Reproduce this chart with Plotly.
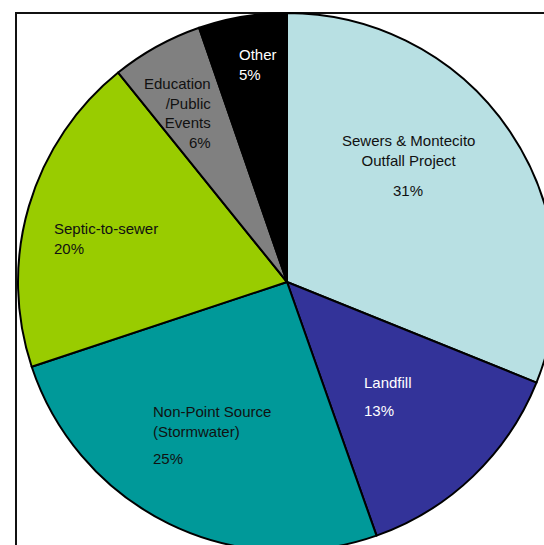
import plotly.graph_objects as go

categories = ["Sewers & Montecito Outfall Project", "Landfill", "Non-Point Source (Stormwater)",
              "Septic-to-sewer", "Education /Public Events", "Other"]
values = [31.1, 13.5, 25.3, 19.3, 5.5, 5.3]
pct_labels = ["31%", "13%", "25%", "20%", "6%", "5%"]
colors = ["#B8E0E3", "#333399", "#009999", "#99CC00", "#808080", "#000000"]

# label texts (name lines)
name_lines = ["Sewers & Montecito<br>Outfall Project", "Landfill", "Non-Point Source<br>(Stormwater)",
              "Septic-to-sewer", "Education<br>/Public<br>Events", "Other"]
text_colors = ["#111111", "#ffffff", "#111111", "#111111", "#111111", "#ffffff"]
joined = [False, False, False, True, True, True]

W, H = 570, 560
# pixel layout of the pie (center, radius)
CX, CY, R = 287, 282, 269

# label placement in pixels: (x, y_top_of_name, anchor, y_top_of_percent)
label_pos = [
    (408, 130, "center", 180),
    (362, 372, "left", 400),
    (151, 401, "left", 448),
    (52, 218, "left", 237),
    (213, 73, "right", 130),
    (237, 44, "left", 63),
]

fig = go.Figure(go.Pie(
    labels=categories, values=values, sort=False, direction="clockwise", rotation=0,
    marker=dict(colors=colors, line=dict(color="#000000", width=2)),
    textinfo="none", hoverinfo="label+percent", showlegend=False,
    domain=dict(x=[(CX - R) / W, (CX + R) / W], y=[1 - (CY + R) / H, 1 - (CY - R) / H]),
))

font_family = "Liberation Sans, Arial, sans-serif"
annotations = []
for name, pct, tc, jn, (px, py, anc, ppy) in zip(name_lines, pct_labels, text_colors, joined, label_pos):
    f = dict(family=font_family, size=15, color=tc)
    if jn:
        annotations.append(dict(x=px / W, y=1 - py / H, xref="paper", yref="paper", text=name + "<br>" + pct,
                                showarrow=False, xanchor=anc, yanchor="top", align=anc, font=f))
    else:
        annotations.append(dict(x=px / W, y=1 - py / H, xref="paper", yref="paper", text=name,
                                showarrow=False, xanchor=anc, yanchor="top", align=anc, font=f))
        annotations.append(dict(x=px / W, y=1 - ppy / H, xref="paper", yref="paper", text=pct,
                                showarrow=False, xanchor=anc, yanchor="top", align=anc, font=f))

fig.update_layout(
    width=W, height=H, autosize=False,
    margin=dict(l=0, r=0, t=0, b=0),
    paper_bgcolor="white", plot_bgcolor="white",
    annotations=annotations,
    shapes=[dict(type="rect", xref="paper", yref="paper", x0=16 / W, x1=1.2, y0=-0.2, y1=1 - 13 / H,
                 line=dict(color="#111111", width=2), fillcolor="rgba(0,0,0,0)", layer="below")],
)

fig.write_html("out.html", config={"displayModeBar": False},
               post_script="document.body.style.margin='0';document.body.style.overflow='hidden';")
